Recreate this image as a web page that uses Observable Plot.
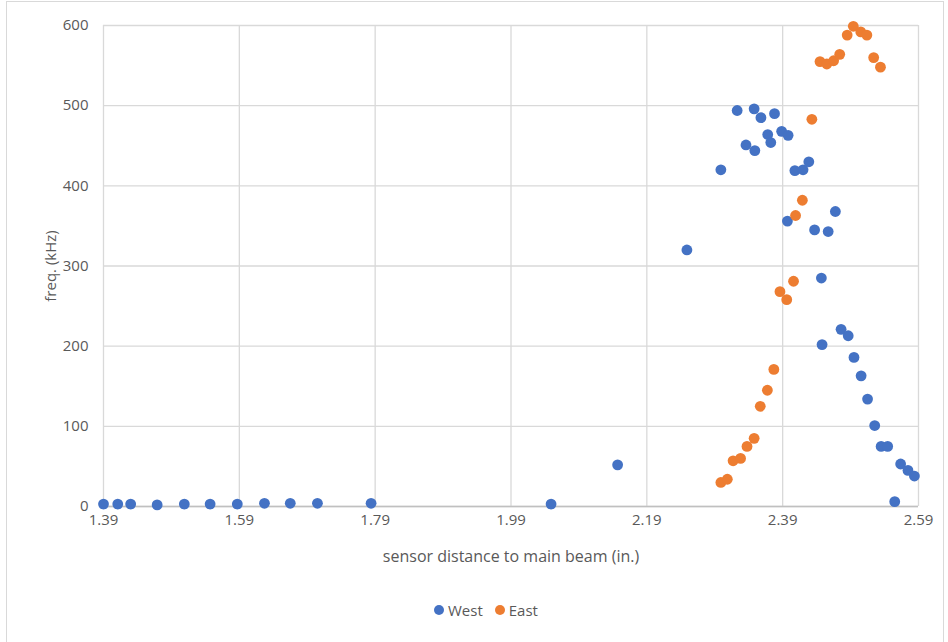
<!DOCTYPE html>
<html><head><meta charset="utf-8">
<script src="https://cdn.jsdelivr.net/npm/d3@7"></script>
<script src="https://cdn.jsdelivr.net/npm/@observablehq/plot@0.6"></script>
<style>
body{margin:0;background:#fff;font-family:"Open Sans",sans-serif;}
#wrap{position:relative;width:948px;height:642px;overflow:hidden;background:#fff;}
#frame{position:absolute;left:6px;top:1px;width:938px;height:680px;border:1px solid #d9d9d9;box-sizing:border-box;}
#chart{position:absolute;left:0;top:0;}
#legend{position:absolute;top:600px;left:434px;display:flex;align-items:center;gap:12px;font-size:15px;color:#595959;}
#legend span.item{display:flex;align-items:center;gap:4px;}
#legend span.sw{display:inline-block;width:10px;height:10px;border-radius:50%;}
</style></head>
<body>
<div id="wrap"><div id="frame"></div><div id="chart"></div><div id="legend"></div></div>
<script>
const seriesNames = ["West", "East"];
const seriesColors = ["#4472C4", "#ED7D31"];
const xTicks = [1.39, 1.59, 1.79, 1.99, 2.19, 2.39, 2.59];
const yTicks = [0, 100, 200, 300, 400, 500, 600];

const westX = [1.39, 1.411, 1.430, 1.469, 1.509, 1.547, 1.587, 1.627, 1.665, 1.705, 1.784, 2.049, 2.147,
  2.249, 2.299, 2.323, 2.336, 2.348, 2.349, 2.358, 2.368, 2.3725, 2.378, 2.3885, 2.397, 2.398, 2.408, 2.420, 2.4285,
  2.437, 2.447, 2.448, 2.457, 2.4676, 2.476, 2.4865, 2.495, 2.5055, 2.515, 2.5255, 2.535, 2.5446, 2.555, 2.5637, 2.5745, 2.584];
const westY = [3, 3, 3, 2, 3, 3, 3, 4, 4, 4, 4, 3, 52,
  320, 420, 494, 451, 496, 444, 485, 464, 454, 490, 468, 356, 463, 419, 420, 430,
  345, 285, 202, 343, 368, 221, 213, 186, 163, 134, 101, 75, 75, 6, 53, 45, 38];

const eastX = [2.299, 2.3085, 2.317, 2.328, 2.3375, 2.348, 2.357, 2.3675, 2.377, 2.386, 2.396, 2.406, 2.409, 2.419,
  2.433, 2.445, 2.455, 2.465, 2.474, 2.485, 2.494, 2.505, 2.514, 2.524, 2.534];
const eastY = [30, 34, 57, 60, 75, 85, 125, 145, 171, 268, 258, 281, 363, 382,
  483, 555, 552, 556, 564, 588, 599, 592, 588, 560, 548];

const data = [
  ...westX.map((x, i) => ({series: seriesNames[0], x, y: westY[i]})),
  ...eastX.map((x, i) => ({series: seriesNames[1], x, y: eastY[i]}))
];

const chart = Plot.plot({
  width: 948, height: 590,
  marginLeft: 103, marginRight: 30, marginTop: 25, marginBottom: 84,
  style: {fontFamily: "'Open Sans', sans-serif", fontSize: "15px", color: "#595959", background: "transparent", overflow: "visible"},
  x: {domain: [1.39, 2.59]},
  y: {domain: [0, 600]},
  color: {domain: seriesNames, range: seriesColors},
  marks: [
    Plot.gridX(xTicks, {stroke: "#d9d9d9", strokeOpacity: 1, strokeWidth: 1.3}),
    Plot.gridY(yTicks, {stroke: "#d9d9d9", strokeOpacity: 1, strokeWidth: 1.3}),
    Plot.ruleY([0], {stroke: "#c0c0c0", strokeWidth: 1.3}),
    Plot.axisX(xTicks, {tickSize: 0, tickPadding: 8, tickFormat: d => d.toFixed(2), fontSize: 15, label: null}),
    Plot.axisX({ticks: [], tickSize: 0,
      label: "sensor distance to main beam (in.)", labelAnchor: "center", labelArrow: "none", labelOffset: 55, fontSize: 16}),
    Plot.axisY(yTicks, {tickSize: 0, tickPadding: 15,
      label: "freq. (kHz)", labelAnchor: "center", labelArrow: "none", labelOffset: 58, fontSize: 15}),
    Plot.dot(data, {x: "x", y: "y", fill: "series", r: 5.4, stroke: "none"})
  ]
});
document.getElementById("chart").appendChild(chart);

const legend = document.getElementById("legend");
seriesNames.forEach((name, i) => {
  const item = document.createElement("span");
  item.className = "item";
  item.innerHTML = `<span class="sw" style="background:${seriesColors[i]}"></span><span>${name}</span>`;
  legend.appendChild(item);
});
</script>
</body></html>
